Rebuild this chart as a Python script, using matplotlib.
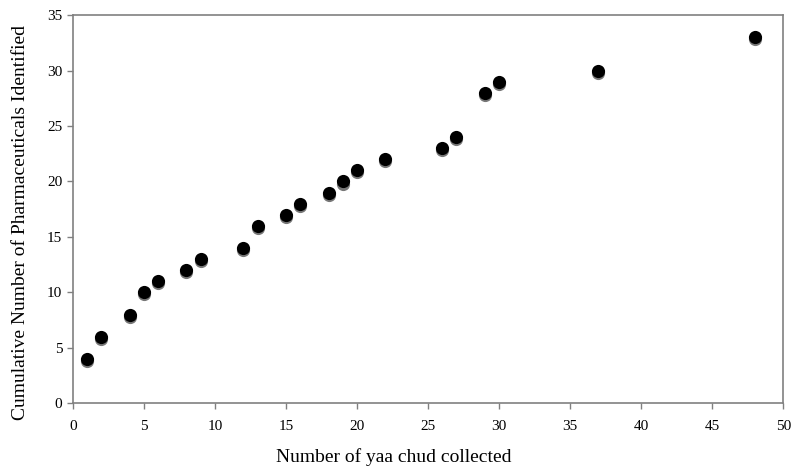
import matplotlib
matplotlib.use("Agg")
import matplotlib.pyplot as plt
import matplotlib.transforms as mtransforms

# yaa chud samples vs cumulative pharmaceuticals
n_samples = [1, 2, 4, 5, 6, 8, 9, 12, 13, 15, 16, 18, 19, 20, 22, 26, 27, 29, 30, 37, 48]
n_pharma = [4, 6, 8, 10, 11, 12, 13, 14, 16, 17, 18, 19, 20, 21, 22, 23, 24, 28, 29, 30, 33]

plt.rcParams['font.family'] = ['Liberation Serif', 'DejaVu Serif']

fig = plt.figure(figsize=(8, 4.76), dpi=100)
ax = fig.add_axes([0.091, 0.153, 0.888, 0.815])

# gray shadow slightly below each dot
shadow = mtransforms.offset_copy(ax.transData, fig=fig, x=0, y=-1.5, units='points')
ax.scatter(n_samples, n_pharma, s=90, color='#777777', transform=shadow, zorder=2, linewidths=0)
ax.scatter(n_samples, n_pharma, s=90, color='black', zorder=3, linewidths=0)

ax.set_xlim(0, 50)
ax.set_ylim(0, 35)
ax.set_xticks(range(0, 51, 5))
ax.set_yticks(range(0, 36, 5))
for s in ax.spines.values():
    s.set_color('#808080')
    s.set_linewidth(1.2)
ax.tick_params(colors='#808080', labelcolor='black', labelsize=11, length=4, width=1)
ax.tick_params(axis='x', pad=8)
ax.set_xlabel('Number of yaa chud collected', fontsize=14)
ax.set_ylabel('Cumulative Number of Pharmaceuticals Identified', fontsize=14)
ax.xaxis.set_label_coords(0.452, -0.115)
ax.yaxis.set_label_coords(-0.062, 0.466)

fig.savefig('out.png', dpi=100)
